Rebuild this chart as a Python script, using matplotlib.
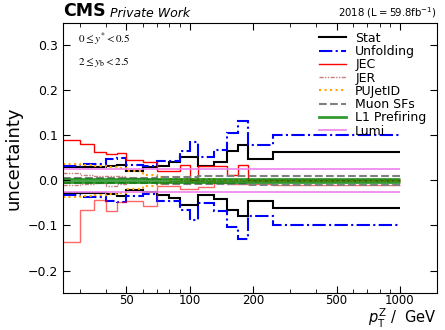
import numpy as np
import matplotlib.pyplot as plt
from matplotlib.ticker import FixedLocator, NullFormatter

# bin edges in pT^Z (GeV)
edges = [25, 30, 35, 40, 45, 50, 60, 70, 80, 90, 100, 110, 130, 150, 170, 190, 250, 1000]

stat_up   = [0.029, 0.029, 0.029, 0.032, 0.035, 0.021, 0.029, 0.033, 0.040, 0.053, 0.053, 0.032, 0.042, 0.066, 0.079, 0.048, 0.062]
stat_down = [-0.028, -0.028, -0.028, -0.031, -0.034, -0.022, -0.025, -0.032, -0.038, -0.054, -0.054, -0.032, -0.041, -0.065, -0.078, -0.046, -0.062]
unf_up    = [0.031, 0.037, 0.037, 0.047, 0.049, 0.034, 0.031, 0.044, 0.044, 0.066, 0.086, 0.053, 0.068, 0.106, 0.132, 0.079, 0.101]
unf_down  = [-0.032, -0.036, -0.036, -0.045, -0.048, -0.034, -0.031, -0.046, -0.046, -0.065, -0.087, -0.050, -0.068, -0.104, -0.131, -0.078, -0.100]
jec_up    = [0.090, 0.080, 0.062, 0.058, 0.060, 0.045, 0.040, 0.020, 0.020, 0.035, 0.000, 0.032, 0.032, 0.013, 0.034, 0.002, 0.000]
jec_down  = [-0.137, -0.066, -0.044, -0.068, -0.048, -0.045, -0.057, -0.013, -0.013, -0.018, -0.018, -0.014, -0.006, -0.008, -0.008, -0.009, -0.0096]
jer_up    = [0.016, 0.012, 0.010, 0.010, 0.009, 0.006, 0.004, 0.003, 0.003, 0.002, 0.002, 0.002, 0.002, 0.002, 0.002, 0.002, 0.002]
jer_down  = [-0.010, -0.008, -0.006, -0.013, -0.008, -0.004, -0.003, -0.003, -0.002, -0.002, -0.002, -0.002, -0.002, -0.002, -0.002, -0.002, -0.002]
pu_up     = [0.037, 0.035, 0.032, 0.030, 0.028, 0.020, 0.012, 0.007, 0.004, 0.004, 0.003, 0.003, 0.002, 0.002, 0.002, 0.002, 0.002]
pu_down   = [-0.037, -0.035, -0.032, -0.030, -0.028, -0.020, -0.012, -0.007, -0.004, -0.004, -0.003, -0.003, -0.002, -0.002, -0.002, -0.002, -0.002]
muon_up   = [0.005, 0.005, 0.005, 0.005, 0.005, 0.006, 0.006, 0.007, 0.007, 0.008, 0.008, 0.009, 0.009, 0.009, 0.009, 0.0095, 0.0095]
muon_down = [-0.005, -0.005, -0.005, -0.005, -0.005, -0.006, -0.006, -0.007, -0.007, -0.008, -0.008, -0.009, -0.009, -0.009, -0.009, -0.0095, -0.0095]
l1_up     = [0.003, 0.003, 0.003, 0.003, 0.003, 0.003, 0.003, 0.003, 0.003, 0.003, 0.003, 0.003, 0.003, 0.003, 0.003, 0.003, 0.003]
l1_down   = [-0.003, -0.003, -0.003, -0.003, -0.003, -0.003, -0.003, -0.003, -0.003, -0.003, -0.003, -0.003, -0.003, -0.003, -0.003, -0.003, -0.003]
lumi_up   = [0.025, 0.025, 0.025, 0.025, 0.025, 0.025, 0.025, 0.025, 0.025, 0.025, 0.025, 0.025, 0.025, 0.025, 0.025, 0.025, 0.025]
lumi_down = [-0.025, -0.025, -0.025, -0.025, -0.025, -0.025, -0.025, -0.025, -0.025, -0.025, -0.025, -0.025, -0.025, -0.025, -0.025, -0.025, -0.025]

xticks = [50, 100, 200, 500, 1000]

fig = plt.figure(figsize=(4.45, 3.3), dpi=100)
ax = fig.add_axes([0.1416, 0.112, 0.8404, 0.819])

# (label, up, down, style)
sources = [
    ('Stat', stat_up, stat_down, dict(color='black', ls='-', lw=1.5)),
    ('Unfolding', unf_up, unf_down, dict(color='blue', ls='-.', lw=1.5)),
    ('JEC', jec_up, jec_down, dict(color='red', ls='-', lw=1.0)),
    ('JER', jer_up, jer_down, dict(color='brown', ls=(0, (3, 1, 1, 1, 1, 1)), lw=1.0, alpha=0.6)),
    ('PUJetID', pu_up, pu_down, dict(color='orange', ls=':', lw=1.5)),
    ('Muon SFs', muon_up, muon_down, dict(color='grey', ls='--', lw=1.5)),
    ('L1 Prefiring', l1_up, l1_down, dict(color='green', ls='-', lw=2.0, alpha=0.8)),
    ('Lumi', lumi_up, lumi_down, dict(color='violet', ls='-', lw=1.2)),
]
for lab, up, dn, st in sources:
    ax.stairs(up, edges, baseline=None, label=lab, **st)
    if lab == 'JEC':
        st = dict(st, alpha=0.6)
    ax.stairs(dn, edges, baseline=None, **st)

ax.set_xscale('log')
ax.set_xlim(25, 1500)
ax.set_ylim(-0.25, 0.35)
ax.xaxis.set_major_locator(FixedLocator(xticks))
ax.set_xticklabels([str(t) for t in xticks])
ax.xaxis.set_minor_formatter(NullFormatter())
ax.set_yticks([-0.2, -0.1, 0.0, 0.1, 0.2, 0.3])
ax.tick_params(which='both', direction='in', top=True, right=True, labelsize=9)
ax.tick_params(axis='x', which='major', pad=0.5, labelsize=8.5)
ax.tick_params(which='major', length=5)
ax.tick_params(which='minor', length=3)

ax.set_ylabel('uncertainty', fontsize=13)
ax.set_xlabel(r'$p_{\mathrm{T}}^{\mathrm{Z}}$ /  GeV', fontsize=10.5, ha='right', va='bottom')
ax.xaxis.set_label_coords(1.0, -0.136)

ax.text(0.04, 0.94, r'$0 \leq y^{*} < 0.5$', transform=ax.transAxes, fontsize=8, math_fontfamily='stix', va='center')
ax.text(0.04, 0.855, r'$2 \leq y_{\mathrm{b}} < 2.5$', transform=ax.transAxes, fontsize=8, math_fontfamily='stix', va='center')

ax.text(0.0, 1.012, 'CMS', transform=ax.transAxes, fontsize=12.5, fontweight='bold', va='bottom')
ax.text(0.126, 1.012, 'Private Work', transform=ax.transAxes, fontsize=9, style='italic', va='bottom')
ax.text(1.0, 1.012, r'2018 $(\mathrm{L} = 59.8\mathrm{fb}^{-1})$', transform=ax.transAxes, fontsize=7.3, ha='right', va='bottom')

ax.legend(loc='upper right', frameon=False, fontsize=9, labelspacing=0.02, handlelength=2.2,
          handletextpad=0.7, borderaxespad=0.0, bbox_to_anchor=(0.985, 0.985))

fig.savefig('out.png', dpi=100)
